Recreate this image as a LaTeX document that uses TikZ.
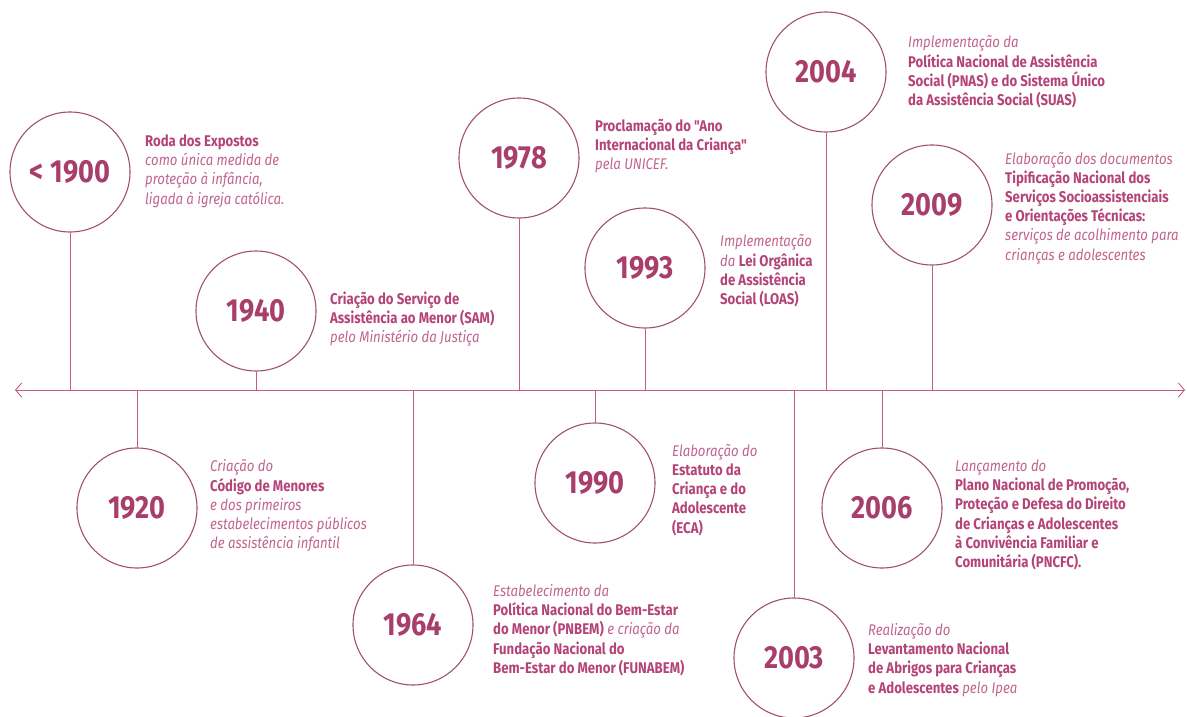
\documentclass[tikz,border=0pt]{standalone}
\usepackage{fontspec}
\setmainfont{Fira Sans}[FakeStretch=0.85, Ligatures=TeXOff]
\newfontfamily\yearfont{Fira Sans}[FakeStretch=0.85]
\usepackage{tikz}
\usetikzlibrary{arrows.meta}
\definecolor{ringcol}{RGB}{160,80,112}
\definecolor{yearcol}{RGB}{168,62,106}
\definecolor{boldcol}{RGB}{180,68,120}
\definecolor{itcol}{RGB}{192,100,142}
\definecolor{axiscol}{RGB}{196,92,130}
\newcommand{\hb}[1]{{\bfseries\color{boldcol}#1}}% texto em negrito
\newcommand{\hi}[1]{{\itshape\color{itcol}#1}}% texto em italico
\tikzset{
  yearnode/.style = {circle, draw=ringcol, line width=1.1pt, inner sep=0pt,
    minimum size=120pt, text=yearcol, font=\yearfont\bfseries\fontsize{32}{32}\selectfont},% circulo do ano
  desc/.style = {anchor=west, align=left, inner sep=0pt,
    font=\fontsize{15.5}{19.2}\selectfont},% texto ao lado
  stem/.style = {draw=axiscol, line width=0.9pt}% haste ate o eixo
}

\begin{document}
\begin{tikzpicture}[x=1pt,y=-1pt]
\useasboundingbox (0,0) rectangle (1187,717);
% eixo do tempo
\coordinate (axisL) at (15,390);
\coordinate (axisR) at (1185,390);
\draw[stem, {Straight Barb[length=6pt,width=14pt]}-{Straight Barb[length=6pt,width=14pt]}] (axisL) -- (axisR);

% acima do eixo
\node [yearnode] (y1900) at (70,172) {< 1900};
\node [desc] (t1900) at (145,171) {\hb{Roda dos Expostos}\\ \hi{como única medida de}\\
  \hi{proteção à infância,}\\ \hi{ligada à igreja católica.}};
\node [yearnode] (y1940) at (256,311) {1940};
\node [desc] (t1940) at (330,319) {\hb{Criação do Serviço de}\\ \hb{Assistência ao Menor (SAM)}\\
  \hi{pelo Ministério da Justiça}};
\node [yearnode] (y1978) at (519,158) {1978};
\node [desc] (t1978) at (595,146) {\hb{Proclamação do "Ano}\\ \hb{Internacional da Criança"}\\
  \hi{pela UNICEF.}};
\node [yearnode] (y1993) at (645,268) {1993};
\node [desc] (t1993) at (720,271) {\hi{Implementação}\\ \hi{da} \hb{Lei Orgânica}\\
  \hb{de Assistência}\\ \hb{Social (LOAS)}};
\node [yearnode] (y2004) at (826,72) {2004};
\node [desc] (t2004) at (908,72) {\hi{Implementação da}\\ \hb{Política Nacional de Assistência}\\
  \hb{Social (PNAS) e do Sistema Único}\\ \hb{da Assistência Social (SUAS)}};
\node [yearnode] (y2009) at (932,205) {2009};
\node [desc] (t2009) at (1005,208) {\hi{Elaboração dos documentos}\\ \hb{Tipificação Nacional dos}\\
  \hb{Serviços Socioassistenciais}\\ \hb{e Orientações Técnicas:}\\
  \hi{serviços de acolhimento para}\\ \hi{crianças e adolescentes}};

% abaixo do eixo
\node [yearnode] (y1920) at (137,508) {1920};
\node [desc] (t1920) at (210,506) {\hi{Criação do}\\ \hb{Código de Menores}\\ \hi{e dos primeiros}\\
  \hi{estabelecimentos públicos}\\ \hi{de assistência infantil}};
\node [yearnode] (y1964) at (413,625) {1964};
\node [desc] (t1964) at (493,630) {\hi{Estabelecimento da}\\ \hb{Política Nacional do Bem-Estar}\\
  \hb{do Menor (PNBEM)} \hi{e criação da}\\ \hb{Fundação Nacional do}\\
  \hb{Bem-Estar do Menor (FUNABEM)}};
\node [yearnode] (y1990) at (595,483) {1990};
\node [desc] (t1990) at (672,490) {\hi{Elaboração do}\\ \hb{Estatuto da}\\ \hb{Criança e do}\\
  \hb{Adolescente}\\ \hb{(ECA)}};
\node [yearnode] (y2003) at (794,658) {2003};
\node [desc] (t2003) at (868,660) {\hi{Realização do}\\ \hb{Levantamento Nacional}\\
  \hb{de Abrigos para Crianças}\\ \hb{e Adolescentes} \hi{pelo Ipea}};
\node [yearnode] (y2006) at (882,508) {2006};
\node [desc] (t2006) at (955,515) {\hi{Lançamento do}\\ \hb{Plano Nacional de Promoção,}\\
  \hb{Proteção e Defesa do Direito}\\ \hb{de Crianças e Adolescentes}\\
  \hb{à Convivência Familiar e}\\ \hb{Comunitária (PNCFC).}};

% hastes
\draw[stem] (y1900.south) -- (y1900.south |- axisL);
\draw[stem] (y1940.south) -- (y1940.south |- axisL);
\draw[stem] (y1978.south) -- (y1978.south |- axisL);
\draw[stem] (y1993.south) -- (y1993.south |- axisL);
\draw[stem] (y2004.south) -- (y2004.south |- axisL);
\draw[stem] (y2009.south) -- (y2009.south |- axisL);
\draw[stem] (y1920.north) -- (y1920.north |- axisL);
\draw[stem] (y1964.north) -- (y1964.north |- axisL);
\draw[stem] (y1990.north) -- (y1990.north |- axisL);
\draw[stem] (y2003.north) -- (y2003.north |- axisL);
\draw[stem] (y2006.north) -- (y2006.north |- axisL);
\end{tikzpicture}
\end{document}
